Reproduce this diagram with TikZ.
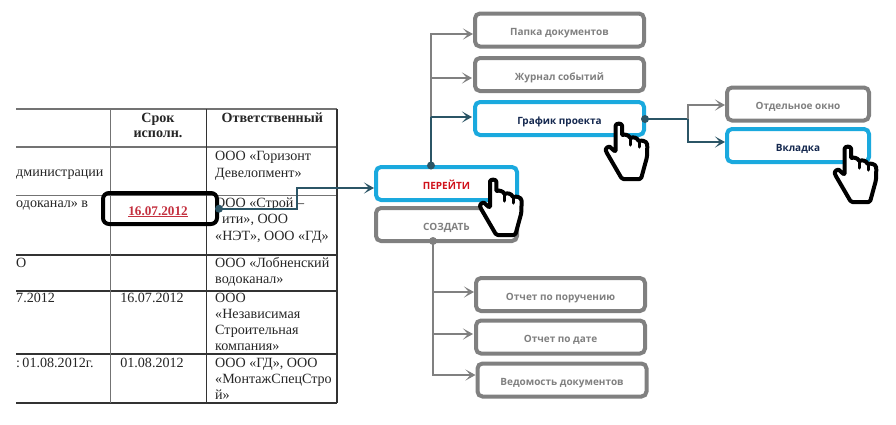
\documentclass[tikz,border=0pt]{standalone}
\usepackage{fontspec}
\setmainfont{Liberation Serif}
\newfontfamily\uifont{Open Sans}
\usetikzlibrary{arrows.meta,calc}
\definecolor{cblue}{HTML}{1AA9DE}
\definecolor{cgray}{HTML}{808080}
\definecolor{cteal}{HTML}{2B5566}
\definecolor{cnavy}{HTML}{14284F}
\definecolor{cred}{HTML}{D0121B}
\definecolor{cdate}{HTML}{C4303F}
\definecolor{cgrid}{HTML}{333333}
\tikzset{
  menubox/.style={draw=cgray,line width=4pt,rounded corners=5pt,fill=white,inner sep=0pt,
    text=cgray,font=\uifont\bfseries\fontsize{10}{12}\selectfont,
    text height=11pt,text depth=0pt,
    minimum width=169pt,minimum height=33pt},
  activebox/.style={menubox,draw=cblue,text=cnavy},
  cell/.style={anchor=base west,inner sep=0pt,font=\fontsize{14.1}{16}\selectfont,text=black!85},
  celle/.style={cell,anchor=base east},
  cellc/.style={cell,anchor=base},
  head/.style={cell,font=\bfseries\fontsize{14.1}{16}\selectfont},
  headc/.style={head,anchor=base},
  grid/.style={line width=1.1pt,draw=cgrid},
  gridg/.style={line width=1.3pt,draw=black!55},
  garrow/.style={line width=2pt,draw=cgray,-{Stealth[length=10pt,width=11pt,inset=5pt]}},
  tarrow/.style={line width=2pt,draw=cteal,-{Stealth[length=10pt,width=11pt,inset=5pt]}},
  gline/.style={line width=2pt,draw=cgray},
  tline/.style={line width=2pt,draw=cteal},
  tdot/.style={circle,fill=cteal,inner sep=0pt,minimum size=8pt},
  gdot/.style={circle,fill=cgray,inner sep=0pt,minimum size=8pt},
  handshape/.pic={
    \draw[fill=white,draw=black,line width=4pt,line join=round,rounded corners=1.5pt]
      (-3.3,3) .. controls (-3.3,-1) and (3,-1) .. (3,3) -- (3,12)
      .. controls (5,10) and (10,11) .. (11.5,15)
      .. controls (13,13) and (18,13) .. (20,18)
      .. controls (22,16) and (28,17) .. (28.3,22)
      -- (28,33) -- (22,55) -- (3,55) -- (-12.7,28)
      .. controls (-14,24) and (-10,22) .. (-8,24) -- (-3.3,28) -- cycle;
    \draw[line width=3pt,line cap=round] (11.5,15) -- (11.5,21) (20,18) -- (20,23);
  }
}
\begin{document}
\begin{tikzpicture}[x=1pt,y=-1pt]
\useasboundingbox[fill=white] (0,0) rectangle (896,424);
% table grid
\draw[gridg] (16,109) -- (337,109);
\draw[gridg] (16,147) -- (337,147);
\draw[gridg] (16,195.5) -- (337,195.5);
\draw[grid] (16,255) -- (337,255);
\draw[grid] (16,291) -- (337,291);
\draw[grid] (16,354) -- (337,354);
\draw[grid] (16,403) -- (337,403);
\draw[gridg] (110.6,109) -- (110.6,403);
\draw[grid] (206.6,109) -- (206.6,403);
\draw[grid] (337,109) -- (337,403);
% table text
\node[headc] (h1) at (158,122) {Срок};
\node[headc] (h2) at (158,137) {исполн.};
\node[head] (h3) at (221.5,122) {Ответственный};
\node[cell] (a1) at (215,160) {ООО «Горизонт};
\node[cell] (a2) at (215,177) {Девелопмент»};
\node[cell] (b0) at (16,176) {дминистрации};
\node[cell] (c0) at (16,207) {одоканал» в};
\node[cell] (d0) at (16,267) {О};
\node[cell] (e0) at (16,302) {7.2012};
\node[cell] (f0) at (16,367) {:\,01.08.2012г.};
\node[cell] (c1) at (215,207) {ООО «Строй –};
\node[cell] (c2) at (222,223) {ити», ООО};
\node[cell] (c3) at (215,240) {«НЭТ», ООО «ГД»};
\node[headc,text=cdate,font=\bfseries\fontsize{13.2}{15}\selectfont] (date) at (158,215) {\underline{16.07.2012}};
\node[cell] (d1) at (215,267) {ООО «Лобненский};
\node[cell] (d2) at (215,283) {водоканал»};
\node[cellc] (e1) at (152,302) {16.07.2012};
\node[cell] (e2) at (215,302) {ООО};
\node[cell] (e3) at (215,318) {«Независимая};
\node[cell] (e4) at (215,334) {Строительная};
\node[cell] (e5) at (215,350) {компания»};
\node[cellc] (f1) at (152,367) {01.08.2012};
\node[cell] (f2) at (215,367) {ООО «ГД», ООО};
\node[cell] (f3) at (215,383) {«МонтажСпецСтро};
\node[cell] (f4) at (215,399) {й»};
% highlight
\node[draw=black,line width=4pt,rounded corners=6pt,minimum width=114pt,minimum height=31pt,inner sep=0pt] (mark) at (160,208.5) {};
% boxes
\node[menubox] (folder) at (559.5,30) {Папка документов};
\node[menubox] (journal) at (559.5,74.5) {Журнал событий};
\node[activebox] (plan) at (559.5,118.5) {График проекта};
\node[activebox,minimum width=141pt,text=cred] (go) at (446.5,183.5) {ПЕРЕЙТИ};
\node[menubox,minimum width=141pt] (create) at (446.5,224.5) {СОЗДАТЬ};
\node[menubox,minimum width=142pt] (window) at (798,104) {Отдельное окно};
\node[activebox,minimum width=142pt] (tab) at (798,145.5) {Вкладка};
\node[menubox] (rep1) at (560.5,294.5) {Отчет по поручению};
\node[menubox] (rep2) at (560.5,337) {Отчет по дате};
\node[menubox] (rep3) at (562,380) {Ведомость документов};
% connectors
\node[tdot] (d1a) at (219,208.7) {};
\node[tdot] (d2a) at (431,165.5) {};
\node[tdot] (d3a) at (645,119) {};
\node[gdot] (d4a) at (433,241) {};
\coordinate (j1) at (297,208.7);
\coordinate (j2) at (431,117);
\coordinate (j3) at (688,119);
\draw[tarrow] (d1a.center) -- (j1) |- ([yshift=-4.5pt]go.west);
\draw[gline] (j2) -- (431,78);
\draw[garrow] (j2) |- ([yshift=-4pt]folder.west);
\draw[garrow] (431,78) -- ([yshift=-3.5pt,xshift=-1pt]journal.west);
\draw[tline] (d2a.center) -- (j2);
\draw[tarrow] (j2) -- ([yshift=1.5pt,xshift=-1pt]plan.west);
\draw[tline] (d3a.center) -- (j3);
\draw[garrow] (j3) |- ([yshift=-1pt]window.west);
\draw[tarrow] (j3) |- ([yshift=3.5pt]tab.west);
\draw[gline] (d4a.center) -- (433,334);
\draw[garrow] (433,292) -- ([yshift=2.5pt]rep1.west);
\draw[garrow] (433,334) -- ([yshift=3pt,xshift=-1pt]rep2.west);
\draw[garrow] (433,334) |- ([yshift=5pt]rep3.west);
% hands
\pic at (493.3,180) {handshape};
\pic at (619,124) {handshape};
\pic at (848,147) {handshape};
\end{tikzpicture}
\end{document}
